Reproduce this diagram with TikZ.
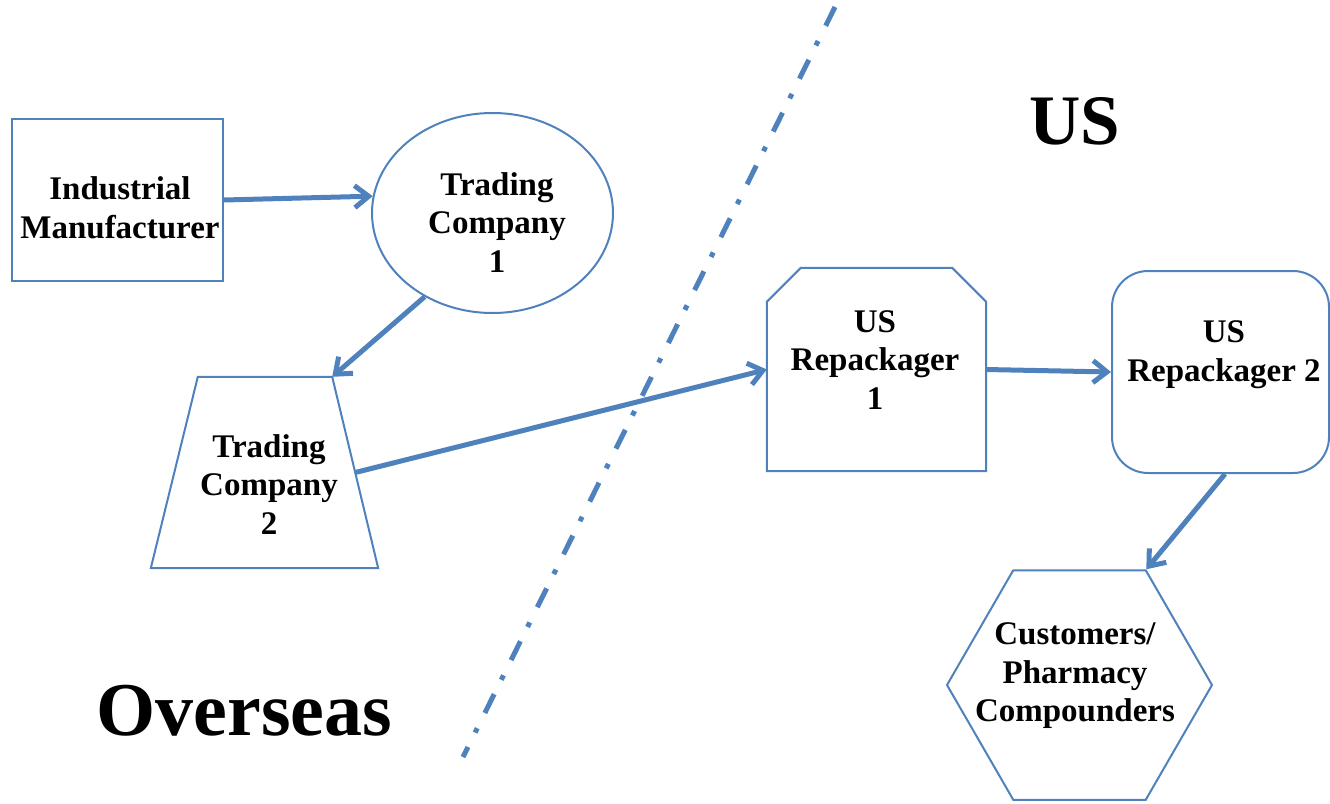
\documentclass[tikz,border=0pt]{standalone}
\usepackage{fontspec}
\setmainfont{Liberation Serif}
\usetikzlibrary{shapes.geometric,arrows.meta,calc}
\definecolor{obl}{HTML}{4F81BD}
\tikzset{
  box/.style={draw=obl, line width=2pt, inner sep=0pt, fill=white},
  frame/.style={draw=none, rectangle, inner sep=0pt},
  outline/.style={draw=obl, line width=2pt, fill=white, line join=miter},
  lbl/.style={font=\fontsize{33}{38.5}\selectfont\bfseries, align=center, inner sep=0pt},
  flow/.style={draw=obl, line width=5pt, -{Straight Barb[length=14pt,width=22pt]}},
  divider/.style={draw=obl, line width=5pt, dash pattern=on 21pt off 17pt on 5pt off 16pt},
  big/.style={font=\fontsize{71}{80}\selectfont\bfseries, inner sep=0pt}
}
\begin{document}
\begin{tikzpicture}[x=1pt,y=-1pt]
\useasboundingbox (0,0) rectangle (1330,803);
% divider
\coordinate (dtop) at (835,7);
\coordinate (dbot) at (463,757);
\draw[divider] (dtop) -- (dbot);
% shapes
\node[box, rectangle, minimum width=211pt, minimum height=162pt] (IM) at (117.5,200) {};
\node[box, ellipse, minimum width=241pt, minimum height=200pt] (TC1) at (492.5,213) {};
% trapezium (Trading Company 2)
\node[frame, minimum width=227pt, minimum height=191pt] (TC2) at (264.5,472.5) {};
\coordinate (TC2tl) at ($(TC2.north west)+(47,0)$);
\coordinate (TC2tr) at ($(TC2.north east)+(-46,0)$);
\coordinate (TC2r) at ($(TC2.east)+(-23,0)$);
\draw[outline] (TC2tl) -- (TC2tr) -- (TC2.south east) -- (TC2.south west) -- cycle;
% chamfered box (US Repackager 1)
\node[frame, minimum width=219pt, minimum height=203pt] (R1) at (876.5,369.5) {};
\draw[outline] ($(R1.north west)+(0,34)$) -- ($(R1.north west)+(34,0)$) -- ($(R1.north east)+(-34,0)$)
  -- ($(R1.north east)+(0,34)$) -- (R1.south east) -- (R1.south west) -- cycle;
\node[box, rectangle, rounded corners=36pt, minimum width=217pt, minimum height=202pt] (R2) at (1220.5,372) {};
\node[box, regular polygon, regular polygon sides=6, minimum size=265pt] (CU) at (1079.5,685) {};
% labels
\node[lbl] (IMt) at (120,207.75) {Industrial\\Manufacturer};
\node[lbl] (TC1t) at (497,222.4) {Trading\\Company\\1};
\node[lbl] (TC2t) at (269,484.3) {Trading\\Company\\2};
\node[lbl] (R1t) at (875,359.6) {US\\Repackager\\1};
\node[lbl] (R2t) at (1224,354.9) {US\\Repackager 2};
\node[lbl] (CUt) at (1075,675.6) {Customers/\\Pharmacy\\Compounders};
\node[big] (US) at (1075,121.5) {US};
\node[big, font=\fontsize{76}{84}\selectfont\bfseries] (OV) at (244.5,711) {Overseas};
% connectors
\draw[flow] (IM.east) -- (TC1.172);
\draw[flow] (TC1.231) -- (TC2tr);
\draw[flow] (TC2r) -- (R1.west);
\draw[flow] (R1.east) -- (R2.west);
\draw[flow] ($(R2.south)+(4.5,0)$) -- (CU.60);
\end{tikzpicture}
\end{document}
